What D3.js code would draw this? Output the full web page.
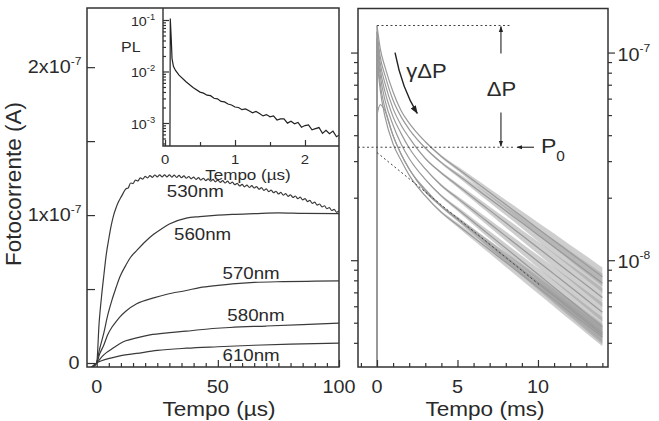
<!DOCTYPE html>
<html><head><meta charset="utf-8">
<script src="https://cdn.jsdelivr.net/npm/d3@7"></script>
<style>
body{margin:0;background:#fff;}
svg{display:block;font-family:"Liberation Sans",Arial,Helvetica,sans-serif;}
.sx{transform-box:fill-box;transform-origin:center;transform:scaleX(1.1);}
.tick line{stroke:#333;stroke-width:1.2;}
</style></head><body>
<svg id="c" width="659" height="421"></svg>
<script>
// ================= DATA =================
// Left panel: photocurrent rise (units of 1e-7 A) vs time (µs)
const time530 = [-3, ...d3.range(0, 101)];
const pc530 = [-0.04,
 0,0.27,0.45,0.6,0.74,0.84,0.93,1.0,1.05,1.09,1.12,1.15,
 1.177,1.183,1.217,1.213,1.237,1.231,1.252,1.243,1.262,1.251,1.267,1.255,1.271,1.258,1.272,1.258,1.272,1.258,1.272,
 1.257,1.270,1.255,1.268,1.253,1.265,1.249,1.261,1.245,1.257,1.241,1.253,1.237,1.249,1.233,1.245,1.229,1.241,1.225,1.237,
 1.221,1.233,1.217,1.229,1.213,1.223,1.205,1.215,1.197,1.207,1.191,1.203,1.187,1.199,1.183,1.193,1.175,1.185,1.167,1.177,
 1.159,1.169,1.151,1.161,1.143,1.153,1.135,1.145,1.127,1.137,1.119,1.129,1.111,1.121,1.103,1.111,1.091,1.099,1.079,1.087,
 1.067,1.075,1.055,1.063,1.043,1.051,1.031,1.039,1.019,1.027];
const time560 = [-3,0,1,2.9,4.5,6.2,8,9.5,12,14,16.5,20,23.5,27,30,37,42.5,50,56,65,75,85,100];
const pc560   = [-0.04,0,0.08,0.2,0.32,0.42,0.51,0.58,0.66,0.715,0.76,0.82,0.87,0.91,0.94,0.98,0.99,1.0,1.005,1.01,1.015,1.012,1.01];
const time570 = [-3,0,1.2,2.9,4.5,6.2,8,9.5,12,16.5,23.5,29,37,42.5,50,56,65,77,90,100];
const pc570   = [-0.04,0,0.06,0.12,0.19,0.24,0.28,0.31,0.35,0.40,0.44,0.465,0.49,0.51,0.525,0.535,0.545,0.55,0.553,0.555];
const time580 = [-3,0,2,4,6.2,9.5,12,16.5,22,30,37,42.5,55,70,85,100];
const pc580   = [-0.04,0,0.04,0.07,0.095,0.13,0.15,0.17,0.19,0.205,0.215,0.225,0.24,0.25,0.26,0.27];
const time610 = [-3,0,2,6.2,10,16.5,25,37,50,65,80,100];
const pc610   = [-0.04,0,0.015,0.035,0.05,0.065,0.085,0.1,0.11,0.12,0.128,0.135];
const wavelengths = ["530nm","560nm","570nm","580nm","610nm"];
const leftYTicks = [0, 1, 2];
const leftYMant = ["0", "1x10", "2x10"];
const leftYExp = ["", "-7", "-7"];
const leftXTicks = [0, 50, 100];

// Inset: PL decay vs time (µs)
const insetTime = [0.07,0.075,0.09,0.1,0.12,0.15,0.2,0.3,0.4,0.5,0.55,0.6,0.65,0.7,0.75,0.8,0.85,0.9,0.95,
 1.0,1.05,1.1,1.15,1.2,1.25,1.3,1.35,1.4,1.45,1.5,1.55,1.6,1.65,1.7,1.75,1.8,1.85,1.9,1.95,2.0,2.05,2.1,2.15,2.2,2.25,2.3,2.35,2.4,2.45,2.5];
const insetPL = [0.0003,0.107,0.0398,0.0178,0.0126,0.0105,0.00851,0.00631,0.0049,0.00398,0.0038,0.00347,0.00339,0.00302,0.00295,0.00263,0.00257,0.00234,0.00224,
 0.002042,0.002000,0.001811,0.001879,0.001722,0.001574,0.001675,0.001531,0.001371,0.001455,0.001318,0.001368,0.001143,0.001199,0.001205,0.000993,
 0.001081,0.000966,0.001028,0.000828,0.000891,0.000914,0.000738,0.000775,0.000815,0.000627,0.000723,0.000617,0.000695,0.000541,0.000596];
const insetYTicks = [0.1, 0.01, 0.001];
const insetYExp = ["-1", "-2", "-3"];
const insetXTicks = [0, 1, 2];

// Right panel: photocurrent decay (units of 1e-8 A) vs time (ms)
const rTime = [0,0.2,0.5,1,1.5,2,3,4,5,6,7,8,9,10,11,12,13,14];
const traceA = [13.49,10.47,8.51,6.46,5.25,4.57,3.72,3.16,2.767,2.421,2.118,1.854,1.622,1.419,1.242,1.086,0.951,0.832];
const traceB = [12.59,9.55,7.76,5.89,4.90,4.27,3.47,2.95,2.582,2.259,1.977,1.730,1.514,1.324,1.159,1.014,0.887,0.776];
const traceC = [11.75,8.91,7.08,5.37,4.47,3.89,3.09,2.63,2.291,1.995,1.738,1.514,1.318,1.148,1.0,0.871,0.759,0.661];
const traceD = [11.22,8.32,6.46,4.90,4.07,3.47,2.75,2.29,1.991,1.730,1.503,1.306,1.135,0.986,0.857,0.745,0.647,0.562];
const traceE = [10.72,7.76,5.89,4.47,3.63,3.09,2.45,2.04,1.766,1.528,1.321,1.143,0.989,0.855,0.740,0.640,0.553,0.479];
const traceF = [10.0,7.08,5.37,3.98,3.24,2.75,2.19,1.82,1.581,1.374,1.194,1.038,0.902,0.784,0.681,0.592,0.514,0.447];
const traceG = [9.33,6.61,4.90,3.63,3.02,2.57,2.04,1.70,1.479,1.288,1.122,0.977,0.851,0.741,0.646,0.562,0.490,0.427];
const traceH = [5.01,5.62,5.25,3.98,3.24,2.75,2.14,1.82,1.578,1.368,1.186,1.028,0.891,0.773,0.670,0.581,0.504,0.437];
const rNoise = [0,0,0,0,0,0,0.003,0.006,0.01,0.014,0.018,0.022,0.026,0.03,0.034,0.038,0.042,0.045]; // decades
const rightYTicks = [10, 1];
const rightYExp = ["-7", "-8"];
const rightXTicks = [0, 5, 10];
const peakLevel = 13.5, p0Level = 3.5;
const slowFitT = [0, 10.1], slowFitV = [3.3, 0.76];

// ================= DRAW =================
const svg = d3.select('#c');
const ink = '#2a2a2a';

function label(sel, x, y, txt, size, anchor, sup, supDy, supSize, cls){
  const t = sel.append('text').attr('x',x).attr('y',y).attr('font-size',size)
    .attr('text-anchor',anchor||'start').attr('fill',ink).text(txt);
  if(cls) t.attr('class',cls);
  if(sup){ t.append('tspan').attr('dy',supDy).attr('font-size',supSize).text(sup); }
  return t;
}
function axisNoDomain(g){ g.select('.domain').remove(); }

// ---------- Left panel ----------
const xL = d3.scaleLinear().domain([-4,100]).range([87,339]);
const yL = d3.scaleLinear().domain([-0.027,2.4]).range([367,8]);
svg.append('clipPath').attr('id','clipL').append('rect')
  .attr('x',xL.range()[0]).attr('y',yL.range()[1])
  .attr('width',xL.range()[1]-xL.range()[0]).attr('height',yL.range()[0]-yL.range()[1]);
const gL = svg.append('g').attr('clip-path','url(#clipL)');
const lineL = d3.line().x(d=>xL(d[0])).y(d=>yL(d[1])).curve(d3.curveMonotoneX);
const leftSeries = [[time530,pc530],[time560,pc560],[time570,pc570],[time580,pc580],[time610,pc610]];
leftSeries.forEach(([t,v])=>{
  gL.append('path').attr('d', lineL(t.map((x,i)=>[x,v[i]])))
    .attr('fill','none').attr('stroke','#3a3a3a').attr('stroke-width',1.2);
});

// inset
const xI = d3.scaleLinear().domain([-0.029,2.486]).range([163,339]);
const yI = d3.scaleLog().domain([3.573e-4,0.171]).range([146,8]);
svg.append('rect').attr('x',xI.range()[0]).attr('y',yI.range()[1])
  .attr('width',xI.range()[1]-xI.range()[0]).attr('height',yI.range()[0]-yI.range()[1]).attr('fill','#fff');
svg.append('clipPath').attr('id','clipI').append('rect')
  .attr('x',xI.range()[0]).attr('y',yI.range()[1])
  .attr('width',xI.range()[1]-xI.range()[0]).attr('height',yI.range()[0]-yI.range()[1]);
svg.append('path').attr('clip-path','url(#clipI)')
  .attr('d', d3.line().x(d=>xI(d[0])).y(d=>yI(d[1]))(insetTime.map((t,i)=>[t,insetPL[i]])))
  .attr('fill','none').attr('stroke','#222').attr('stroke-width',1.2);

const insetMinorY = [];
[1e-4,1e-3,1e-2].forEach(d=>{ for(let k=2;k<=9;k++){ const v=k*d; if(v>yI.domain()[0] && v<yI.domain()[1]) insetMinorY.push(v);} });
svg.append('g').attr('transform',`translate(${xI.range()[0]},0)`)
  .call(d3.axisLeft(yI).tickValues(insetMinorY).tickSize(-3).tickFormat('')).call(axisNoDomain);
svg.append('g').attr('transform',`translate(${xI.range()[0]},0)`)
  .call(d3.axisLeft(yI).tickValues(insetYTicks).tickSize(-6).tickFormat('')).call(axisNoDomain);
svg.append('g').attr('transform',`translate(0,${yI.range()[0]})`)
  .call(d3.axisBottom(xI).tickValues([0.5,1.5]).tickSize(-4).tickFormat('')).call(axisNoDomain);
svg.append('g').attr('transform',`translate(0,${yI.range()[0]})`)
  .call(d3.axisBottom(xI).tickValues(insetXTicks).tickSize(-6).tickFormat('')).call(axisNoDomain);
svg.append('path').attr('d',`M${xI.range()[0]},${yI.range()[1]}V${yI.range()[0]}H${xI.range()[1]}`)
  .attr('fill','none').attr('stroke','#333').attr('stroke-width',1.4);
insetYTicks.forEach((v,i)=> label(svg, 154, yI(v)+6, "10", 13, 'end', insetYExp[i], -6, 8.5, 'sx'));
insetXTicks.forEach(v=> label(svg, xI(v), 164, String(v), 13.5, 'middle', null,0,0,'sx'));
label(svg, 248, 180, "Tempo (µs)", 15.5, 'middle', null,0,0,'sx');
label(svg, 122, 52, "PL", 14.5, 'start', null,0,0,'sx');

// left axes
svg.append('g').attr('transform',`translate(0,${yL.range()[0]})`)
  .call(d3.axisBottom(xL).tickValues(d3.range(5,100,5).filter(v=>v!==50)).tickSize(-4).tickFormat('')).call(axisNoDomain);
svg.append('g').attr('transform',`translate(0,${yL.range()[0]})`)
  .call(d3.axisBottom(xL).tickValues(leftXTicks).tickSize(-7).tickFormat('')).call(axisNoDomain);
svg.append('g').attr('transform',`translate(${xL.range()[0]},0)`)
  .call(d3.axisLeft(yL).tickValues([0,0.5,1,1.5,2]).tickSize(-8).tickFormat('')).call(axisNoDomain);
svg.append('rect').attr('x',xL.range()[0]).attr('y',yL.range()[1])
  .attr('width',xL.range()[1]-xL.range()[0]).attr('height',yL.range()[0]-yL.range()[1])
  .attr('fill','none').attr('stroke','#333').attr('stroke-width',1.5);
leftYTicks.forEach((v,i)=> label(svg, 79, yL(v)+6, leftYMant[i], 18, 'end', leftYExp[i], -8, 11, 'sx'));
leftXTicks.forEach(v=> label(svg, xL(v), 393, String(v), 18, 'middle', null,0,0,'sx'));
label(svg, 219, 416, "Tempo (µs)", 20.5, 'middle', null,0,0,'sx');
svg.append('text').attr('transform','translate(21,184) rotate(-90)').attr('text-anchor','middle')
  .attr('font-size',22.5).attr('fill',ink).text('Fotocorrente (A)');

const wlPos = [[30,1.12],[33,0.83],[53,0.57],[55,0.285],[53,0.015]];
wavelengths.forEach((w,i)=> label(svg, xL(wlPos[i][0]), yL(wlPos[i][1]), w, 17, 'start', null,0,0,'sx'));

// ---------- Right panel ----------
const xR = d3.scaleLinear().domain([-1.18,14.35]).range([358,608]);
const yR = d3.scaleLog().domain([0.306,16.3]).range([367,8.5]);
svg.append('clipPath').attr('id','clipR').append('rect')
  .attr('x',xR.range()[0]).attr('y',yR.range()[1])
  .attr('width',xR.range()[1]-xR.range()[0]).attr('height',yR.range()[0]-yR.range()[1]);
const gR = svg.append('g').attr('clip-path','url(#clipR)');
const traces = [traceA,traceB,traceC,traceD,traceE,traceF,traceG,traceH];
const areaR = d3.area().x(d=>xR(d.t)).y0(d=>yR(d.v*Math.pow(10,-d.n))).y1(d=>yR(d.v*Math.pow(10,d.n))).curve(d3.curveMonotoneX);
const lineR = d3.line().x(d=>xR(d.t)).y(d=>yR(d.v)).curve(d3.curveMonotoneX);
traces.forEach(tr=>{
  const pts = rTime.map((t,i)=>({t, v:tr[i], n:rNoise[i]}));
  gR.append('path').attr('d',areaR(pts)).attr('fill','#9d9d9d').attr('opacity',0.5);
  gR.append('path').attr('d',lineR(pts)).attr('fill','none').attr('stroke','#999').attr('stroke-width',1.2);
  gR.append('line').attr('x1',xR(0)).attr('x2',xR(0)).attr('y1',yR.range()[0]).attr('y2',yR(tr[0]))
    .attr('stroke','#999').attr('stroke-width',1.2);
});

const dot = {stroke:'#444','stroke-width':1,'stroke-dasharray':'2,2.5',fill:'none'};
function applyAttrs(s,o){ Object.entries(o).forEach(([k,v])=>s.attr(k,v)); return s; }
applyAttrs(svg.append('line').attr('x1',xR(0)).attr('x2',xR(8.3)).attr('y1',yR(peakLevel)).attr('y2',yR(peakLevel)), dot);
applyAttrs(svg.append('line').attr('x1',xR.range()[0]).attr('x2',xR(8.6)).attr('y1',yR(p0Level)).attr('y2',yR(p0Level)), dot);
applyAttrs(svg.append('line').attr('x1',xR(slowFitT[0])).attr('x2',xR(slowFitT[1])).attr('y1',yR(slowFitV[0])).attr('y2',yR(slowFitV[1])), dot);

const defs = svg.append('defs');
defs.append('marker').attr('id','ah').attr('viewBox','0 0 10 10').attr('refX',9).attr('refY',5)
  .attr('markerWidth',6).attr('markerHeight',6).attr('orient','auto')
  .append('path').attr('d','M0,1.5L10,5L0,8.5z').attr('fill','#222');
defs.append('marker').attr('id','ah2').attr('viewBox','0 0 10 10').attr('refX',9).attr('refY',5)
  .attr('markerWidth',5.5).attr('markerHeight',5.5).attr('orient','auto')
  .append('path').attr('d','M0,1.5L10,5L0,8.5z').attr('fill','#222');
const arr = {stroke:'#222','stroke-width':1.1,fill:'none'};
applyAttrs(svg.append('path').attr('d',`M${xR(1.12)},${yR(10)} Q${xR(1.55)},${yR(6.71)} ${xR(2.5)},${yR(5.1)}`), arr)
  .attr('stroke-width',1.4).attr('marker-end','url(#ah)');
applyAttrs(svg.append('line').attr('x1',xR(7.7)).attr('x2',xR(7.7)).attr('y1',yR(9.9)).attr('y2',yR(peakLevel)+1), arr).attr('marker-end','url(#ah2)');
applyAttrs(svg.append('line').attr('x1',xR(7.7)).attr('x2',xR(7.7)).attr('y1',yR(5.15)).attr('y2',yR(p0Level)-1), arr).attr('marker-end','url(#ah2)');
applyAttrs(svg.append('line').attr('x1',xR(9.75)).attr('x2',xR(8.7)).attr('y1',yR(p0Level)).attr('y2',yR(p0Level)), arr).attr('marker-end','url(#ah2)');

label(svg, xR(1.93), yR(7.58), "γΔP", 20, 'start', null,0,0,'sx');
label(svg, xR(6.9), yR(6.2), "ΔP", 20, 'start', null,0,0,'sx');
const p0t = label(svg, xR(10.25), yR(3.27), "P", 21, 'start', null,0,0,'sx');
p0t.append('tspan').attr('dy',8).attr('font-size',14).text('0');

const rMinor = [];
[0.1,1].forEach(d=>{ for(let k=2;k<=9;k++){ const v=k*d; if(v>yR.domain()[0] && v<yR.domain()[1]) rMinor.push(v);} });
[[d3.axisRight, xR.range()[0]],[d3.axisLeft, xR.range()[1]]].forEach(([ax,x])=>{
  svg.append('g').attr('transform',`translate(${x},0)`).call(ax(yR).tickValues(rMinor).tickSize(-4).tickFormat('')).call(axisNoDomain);
  svg.append('g').attr('transform',`translate(${x},0)`).call(ax(yR).tickValues(rightYTicks).tickSize(-7).tickFormat('')).call(axisNoDomain);
});
svg.append('g').attr('transform',`translate(0,${yR.range()[0]})`)
  .call(d3.axisBottom(xR).tickValues(d3.range(-1,15).filter(v=>v%5!==0)).tickSize(-4).tickFormat('')).call(axisNoDomain);
svg.append('g').attr('transform',`translate(0,${yR.range()[0]})`)
  .call(d3.axisBottom(xR).tickValues(rightXTicks).tickSize(-7).tickFormat('')).call(axisNoDomain);
svg.append('rect').attr('x',xR.range()[0]).attr('y',yR.range()[1])
  .attr('width',xR.range()[1]-xR.range()[0]).attr('height',yR.range()[0]-yR.range()[1])
  .attr('fill','none').attr('stroke','#333').attr('stroke-width',1.5);
rightYTicks.forEach((v,i)=> label(svg, 619, yR(v)+8, "10", 18, 'start', rightYExp[i], -9, 11, 'sx'));
rightXTicks.forEach(v=> label(svg, xR(v), 393, String(v), 18, 'middle', null,0,0,'sx'));
label(svg, 485, 416, "Tempo (ms)", 20.5, 'middle', null,0,0,'sx');
</script>
</body></html>
